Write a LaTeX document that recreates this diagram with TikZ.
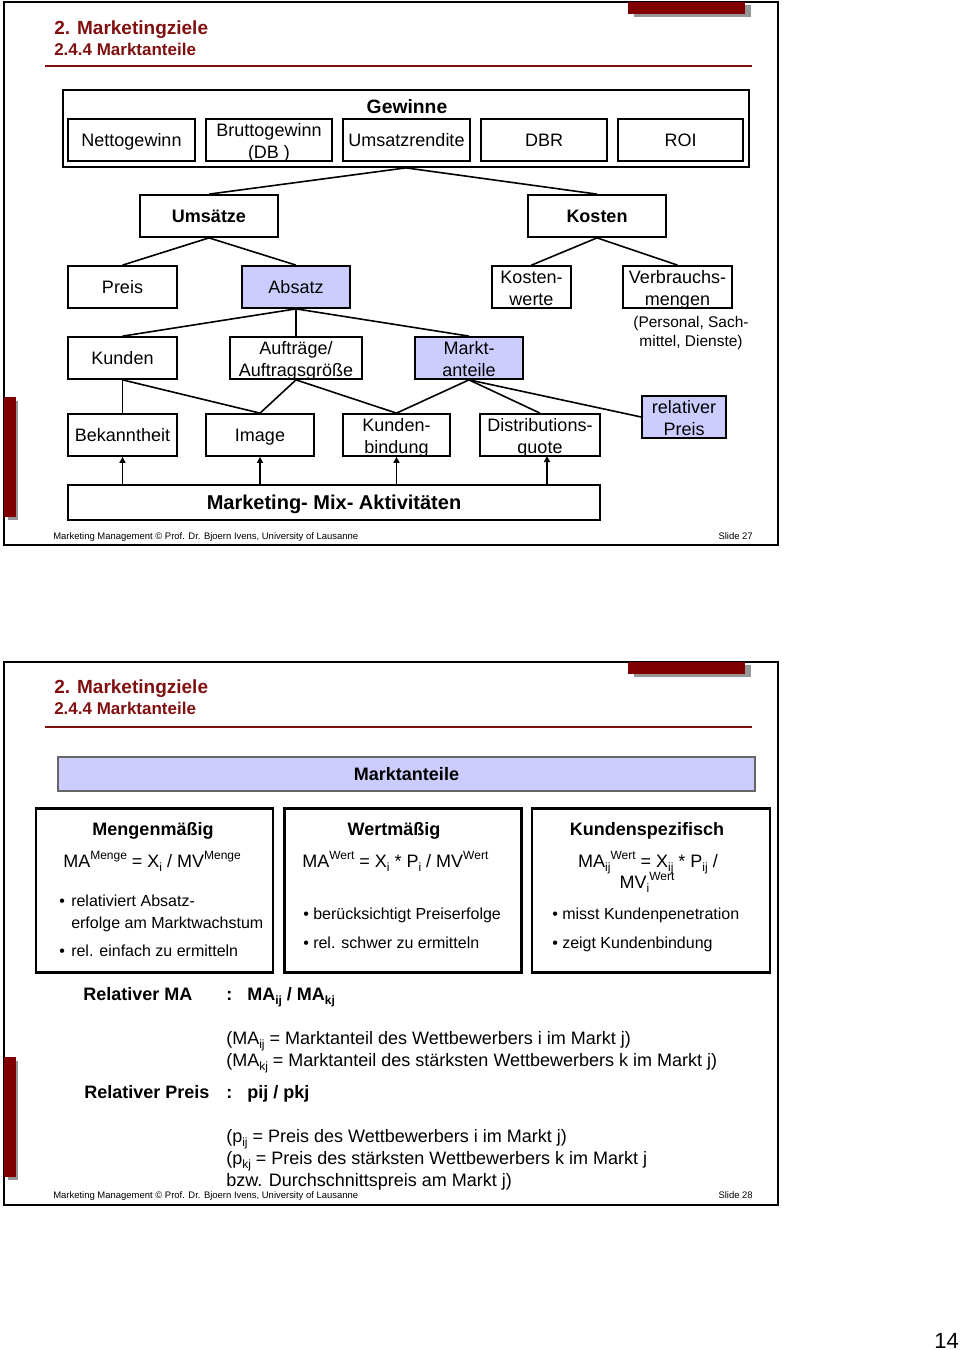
\documentclass[tikz,border=0pt]{standalone}
\usepackage{fontspec}
\setmainfont{Liberation Sans}
\usetikzlibrary{arrows.meta}
\definecolor{tred}{RGB}{128,16,16}
\definecolor{barred}{RGB}{128,0,0}
\definecolor{lav}{RGB}{204,204,255}
\definecolor{shad}{RGB}{150,150,150}
\newcommand\fsz[2]{\fontsize{#1pt}{#2pt}\selectfont}
\newcommand\mysup[1]{\raisebox{5.5pt}{\fontsize{9pt}{9pt}\selectfont #1}}
\newcommand\mysub[1]{\raisebox{-3pt}{\fontsize{9pt}{9pt}\selectfont #1}}
\newcommand\twol[2]{\rule{0pt}{13pt}\raisebox{0pt}[0pt][0pt]{#1}\\\raisebox{0pt}[0pt][0pt]{#2}\rule[-2pt]{0pt}{2pt}}
\begin{document}
\begin{tikzpicture}[x=0.75pt,y=-0.75pt,
  bx/.style={draw,line width=1.3pt,inner sep=0pt,align=center,font=\fsz{13.5}{16.5}},
  bxa/.style={bx,text height=10pt,text depth=1pt},
  sz/.style 2 args={minimum width=#1*0.75pt,minimum height=#2*0.75pt},
  lavbox/.style={fill=lav},
  conn/.style={line width=1.2pt},
  arr/.style={line width=1.2pt,-{Triangle[length=4.5pt,width=4.5pt]}},
  frame/.style={line width=1.5pt},
  ttl/.style={anchor=base west,inner sep=0pt,text=tred,font=\bfseries\fsz{14.25}{16}},
  subttl/.style={anchor=base west,inner sep=0pt,text=tred,font=\bfseries\fsz{12.75}{15}},
  foot/.style={inner sep=0pt,font=\fsz{7.1}{8}},
  txt/.style={anchor=base west,inner sep=0pt,font=\fsz{13.5}{16}},
  btxt/.style={anchor=base west,inner sep=0pt,font=\bfseries\fsz{13.5}{16}},
  bul/.style={anchor=base west,inner sep=0pt,font=\fsz{12}{14}},
  hd/.style={anchor=base,inner sep=0pt,font=\bfseries\fsz{13.5}{16}},
  bigbox/.style={draw,line width=2.2pt},
]
\useasboundingbox (0,0) rectangle (960,1350);

% ================= Slide 27 =================
\draw[frame] (4,2) rectangle (778,545);
\fill[shad] (634,5) rectangle (751,17);
\fill[barred] (628,2) rectangle (745,14);
\fill[shad] (8,401) rectangle (18,520);
\fill[barred] (4,397) rectangle (16,517);
\node[ttl] (t1) at (54,34) {2. Marketingziele};
\node[subttl] (s1) at (54,55) {2.4.4 Marktanteile};
\draw[tred,line width=0.8pt] (45,66) -- (752,66);

\node[bx,sz={686}{77}] (gew) at (406,128.5) {};
\node[inner sep=0pt,font=\bfseries\fsz{14.5}{16},text height=10.5pt,text depth=1pt] (gewl) at (407,107.5) {Gewinne};
\node[bxa,sz={127}{42}] (netto) at (131.5,140) {Nettogewinn};
\node[bx,sz={126}{42}] (brutto) at (269,140) {\twol{Bruttogewinn}{(DB )}};
\node[bxa,sz={127}{42}] (umsr) at (406.5,140) {Umsatzrendite};
\node[bxa,sz={126}{42}] (dbr) at (544,140) {DBR};
\node[bxa,sz={125}{42}] (roi) at (680.5,140) {ROI};

\node[bxa,sz={138}{42},font=\bfseries\fsz{13.5}{16}] (ums) at (209,216) {Umsätze};
\node[bxa,sz={138}{42},font=\bfseries\fsz{13.5}{16}] (kos) at (597,216) {Kosten};
\node[bxa,sz={109}{42}] (preis) at (122.5,287) {Preis};
\node[bxa,sz={108}{42},lavbox] (abs) at (296,287) {Absatz};
\node[bx,sz={79}{42}] (kw) at (531.5,287) {\twol{Kosten-}{werte}};
\node[bx,sz={109}{42}] (vm) at (677.5,287) {\twol{Verbrauchs-}{mengen}};
\node[align=center,inner sep=0pt,font=\fsz{11.6}{14}] (note) at (691,333) {(Personal, Sach-\\mittel, Dienste)};
\node[bxa,sz={109}{42}] (kun) at (122.5,358) {Kunden};
\node[bx,sz={132}{42}] (auf) at (296,358) {\twol{Aufträge/}{Auftragsgröße}};
\node[bx,sz={108}{42},lavbox] (ma) at (469,358) {\twol{Markt-}{anteile}};
\node[bxa,sz={109}{42}] (bek) at (122.5,435) {Bekanntheit};
\node[bxa,sz={108}{42}] (img) at (260,435) {Image};
\node[bx,sz={107}{42}] (kb) at (396.5,435) {\twol{Kunden-}{bindung}};
\node[bx,sz={120}{42}] (dq) at (540,435) {\twol{Distributions-}{quote}};
\node[bx,sz={84}{42},lavbox] (rp) at (684,417) {\twol{relativer}{Preis}};
\node[bx,sz={532}{35},font=\bfseries\fsz{15}{17},text height=11pt,text depth=1pt] (mix) at (334,502.5) {Marketing- Mix- Aktivitäten};

\draw[conn] (gew.south) -- (ums.north);
\draw[conn] (gew.south) -- (kos.north);
\draw[conn] (ums.south) -- (preis.north);
\draw[conn] (ums.south) -- (abs.north);
\draw[conn] (kos.south) -- (kw.north);
\draw[conn] (kos.south) -- (vm.north);
\draw[conn] (abs.south) -- (kun.north);
\draw[conn] (abs.south) -- (auf.north);
\draw[conn] (abs.south) -- (ma.north);
\draw[conn] (kun.south) -- (bek.north);
\draw[conn] (kun.south) -- (img.north);
\draw[conn] (auf.south) -- (img.north);
\draw[conn] (auf.south) -- (kb.north);
\draw[conn] (ma.south) -- (kb.north);
\draw[conn] (ma.south) -- (dq.north);
\draw[conn] (ma.south) -- (rp.west);

\coordinate (dqx) at (547,456);
\draw[arr] (mix.north -| bek.south) -- (bek.south);
\draw[arr] (mix.north -| img.south) -- (img.south);
\draw[arr] (mix.north -| kb.south) -- (kb.south);
\draw[arr] (mix.north -| dqx) -- (dqx);

\node[foot,anchor=base west] (f1) at (53,539.5) {Marketing Management © Prof. Dr. Bjoern Ivens, University of Lausanne};
\node[foot,anchor=base east] (sl1) at (753,539.5) {Slide 27};

% ================= Slide 28 =================
\draw[frame] (4,662) rectangle (778,1205);
\fill[shad] (634,665) rectangle (751,677);
\fill[barred] (628,662) rectangle (745,674);
\fill[shad] (8,1061) rectangle (18,1180);
\fill[barred] (4,1057) rectangle (16,1177);
\node[ttl] (t2) at (54,693) {2. Marketingziele};
\node[subttl] (s2) at (54,714) {2.4.4 Marktanteile};
\draw[tred,line width=0.8pt] (45,727) -- (752,727);

\node[draw=black!60,line width=1pt,fill=lav,sz={697}{34},inner sep=0pt,font=\bfseries\fsz{13.5}{16},text height=10pt,text depth=1pt] (band) at (406.5,774) {Marktanteile};

\node[bigbox,sz={237}{164}] (b1) at (154.5,890.5) {};
\node[bigbox,sz={237}{164}] (b2) at (403,890.5) {};
\node[bigbox,sz={238}{164}] (b3) at (651,890.5) {};

\node[hd] (h1) at (153,835.5) {Mengenmäßig};
\node[hd] (h2) at (394,835.5) {Wertmäßig};
\node[hd] (h3) at (647,835.5) {Kundenspezifisch};

\node[txt] (fo1) at (63,867) {MA\mysup{Menge} = X\mysub{i} / MV\mysup{Menge}};
\node[txt] (fo2) at (302,867) {MA\mysup{Wert} = X\mysub{i} * P\mysub{i} / MV\mysup{Wert}};
\node[anchor=base,inner sep=0pt,font=\fsz{13.5}{16}] (fo3a) at (648,867) {MA\mysub{ij}\mysup{Wert} = X\mysub{ij} * P\mysub{ij} /};
\node[anchor=base,inner sep=0pt,font=\fsz{13.5}{16}] (fo3b) at (647,888) {MV\mysub{i}\mysup{Wert}};

\node[bul] (l1a) at (59,906) {\makebox[9pt][l]{•}relativiert Absatz-};
\node[bul] (l1b) at (71,928) {erfolge am Marktwachstum};
\node[bul] (l1c) at (59,956) {\makebox[9pt][l]{•}rel. einfach zu ermitteln};
\node[bul] (l2a) at (303,919) {\makebox[7.5pt][l]{•}berücksichtigt Preiserfolge};
\node[bul] (l2b) at (303,948) {\makebox[7.5pt][l]{•}rel. schwer zu ermitteln};
\node[bul] (l3a) at (552,919) {\makebox[7.5pt][l]{•}misst Kundenpenetration};
\node[bul] (l3b) at (552,948) {\makebox[7.5pt][l]{•}zeigt Kundenbindung};

\node[btxt] (rma) at (83,1000.5) {Relativer MA};
\node[btxt] (c1) at (226,1000.5) {:};
\node[btxt] (rmaf) at (247,1000.5) {MA\mysub{ij} / MA\mysub{kj}};
\node[txt] (d1) at (226,1044.5) {(MA\mysub{ij} = Marktanteil des Wettbewerbers i im Markt j)};
\node[txt] (d2) at (226,1066.5) {(MA\mysub{kj} = Marktanteil des stärksten Wettbewerbers k im Markt j)};
\node[btxt] (rpr) at (84,1098.5) {Relativer Preis};
\node[btxt] (c2) at (226,1098.5) {:};
\node[btxt] (rprf) at (247,1098.5) {pij / pkj};
\node[txt] (e1) at (226,1142.5) {(p\mysub{ij} = Preis des Wettbewerbers i im Markt j)};
\node[txt] (e2) at (226,1164.5) {(p\mysub{kj} = Preis des stärksten Wettbewerbers k im Markt j};
\node[txt] (e3) at (226,1186.5) {bzw. Durchschnittspreis am Markt j)};

\node[foot,anchor=base west] (f2) at (53,1198.5) {Marketing Management © Prof. Dr. Bjoern Ivens, University of Lausanne};
\node[foot,anchor=base east] (sl2) at (753,1198.5) {Slide 28};

\node[anchor=base east,inner sep=0pt,font=\fsz{16.5}{18}] (pg) at (959,1348) {14};
\end{tikzpicture}
\end{document}
